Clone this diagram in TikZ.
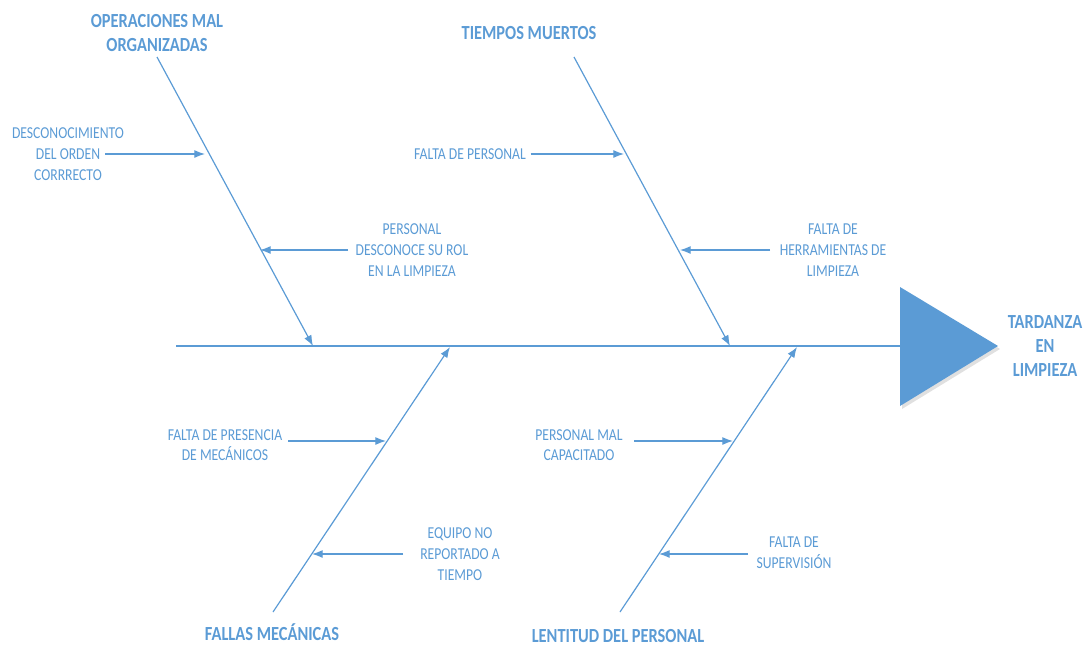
\documentclass[tikz,border=0pt]{standalone}
\usepackage{fontspec}
\setmainfont{Carlito}
\newfontfamily\estrecha[FakeStretch=0.82]{Carlito}
\usetikzlibrary{arrows.meta}
\definecolor{azul}{RGB}{91,155,213}

\begin{document}
\begin{tikzpicture}[x=0.75pt, y=-0.75pt, >={Latex[length=8pt,width=6pt]},
        hueso/.style={draw=azul, line width=0.9pt},
        causa/.style={text=azul, align=center, font=\estrecha\fontsize{12.5}{15.5}\selectfont},
        titulo/.style={text=azul, align=center, font=\estrecha\bfseries\fontsize{15}{18}\selectfont}]
            \useasboundingbox (0,0) rectangle (1089,647);
            % cabeza
            \fill[black!12] (902,290) -- (1000,349) -- (902,409) -- cycle;
            \fill[azul] (900,287) -- (998,346) -- (900,406) -- cycle;
            \coordinate (cabeza) at (900,346);
            \coordinate (inicio) at (176,346);
            \draw[hueso] (inicio) -- (cabeza);
            \node[titulo] (tardanza) at (1045,346) {TARDANZA\\EN\\LIMPIEZA};
            % espinas
            \node[titulo] (operac) at (157,33) {OPERACIONES MAL\\ORGANIZADAS};
            \node[titulo] (tiempos) at (529,33) {TIEMPOS MUERTOS};
            \node[titulo] (fallas) at (272,632) {FALLAS MECÁNICAS};
            \node[titulo] (lentitud) at (618,636) {LENTITUD DEL PERSONAL};
            \coordinate (e1a) at (157,57);  \coordinate (e1b) at (313,346);
            \coordinate (e2a) at (574,57);  \coordinate (e2b) at (730,346);
            \coordinate (e3a) at (273,612); \coordinate (e3b) at (450,347);
            \coordinate (e4a) at (620,612); \coordinate (e4b) at (797,347);
            \draw[hueso, ->] (e1a) -- (e1b);
            \draw[hueso, ->] (e2a) -- (e2b);
            \draw[hueso, ->] (e3a) -- (e3b);
            \draw[hueso, ->] (e4a) -- (e4b);
            % causas
            \node[causa] (descon) at (68,154) {DESCONOCIMIENTO\\DEL ORDEN\\CORRRECTO};
            \node[causa] (persrol) at (412,250) {PERSONAL\\DESCONOCE SU ROL\\EN LA LIMPIEZA};
            \node[causa] (faltapers) at (470,154) {FALTA DE PERSONAL};
            \node[causa] (faltaherr) at (833,250) {FALTA DE\\HERRAMIENTAS DE\\LIMPIEZA};
            \node[causa] (presmec) at (225,445) {FALTA DE PRESENCIA\\DE MECÁNICOS};
            \node[causa] (equipo) at (460,554) {EQUIPO NO\\REPORTADO A\\TIEMPO};
            \node[causa] (perscap) at (579,445) {PERSONAL MAL\\CAPACITADO};
            \node[causa] (faltasup) at (794,553) {FALTA DE\\SUPERVISIÓN};
            \coordinate (c1a) at (105,154); \coordinate (c1b) at (205,154);
            \coordinate (c2a) at (348,250); \coordinate (c2b) at (260,250);
            \coordinate (c3b) at (624,154);
            \coordinate (c4a) at (770,250); \coordinate (c4b) at (680,250);
            \coordinate (c5a) at (288,441); \coordinate (c5b) at (386,441);
            \coordinate (c6a) at (403,554); \coordinate (c6b) at (312,554);
            \coordinate (c7a) at (634,441); \coordinate (c7b) at (733,441);
            \coordinate (c8a) at (748,554); \coordinate (c8b) at (659,554);
            \draw[hueso, ->] (c1a) -- (c1b);
            \draw[hueso, ->] (c2a) -- (c2b);
            \draw[hueso, ->] (faltapers.east) -- (c3b);
            \draw[hueso, ->] (c4a) -- (c4b);
            \draw[hueso, ->] (c5a) -- (c5b);
            \draw[hueso, ->] (c6a) -- (c6b);
            \draw[hueso, ->] (c7a) -- (c7b);
            \draw[hueso, ->] (c8a) -- (c8b);
        \end{tikzpicture}
\end{document}
